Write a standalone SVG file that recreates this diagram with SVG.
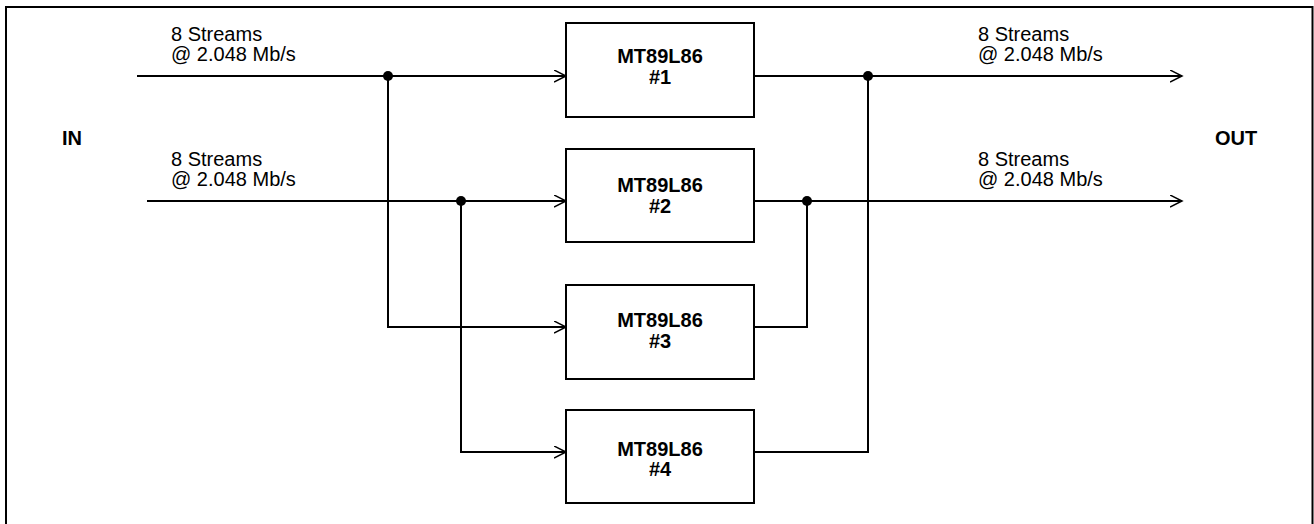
<svg xmlns="http://www.w3.org/2000/svg" width="1314" height="524" viewBox="0 0 1314 524">
<style>
.frame{fill:none;stroke:#000;stroke-width:2}
.box{fill:#fff;stroke:#000;stroke-width:2}
.wire{fill:none;stroke:#000;stroke-width:2}
.lbl{font-family:"Liberation Sans",Arial,sans-serif;font-size:20px;fill:#000}
.bold{font-family:"Liberation Sans",Arial,sans-serif;font-size:20px;font-weight:bold;fill:#000}
.dot{fill:#000}
</style>
<defs>
<marker id="arr" markerWidth="14" markerHeight="14" refX="12" refY="6" orient="auto" markerUnits="userSpaceOnUse">
<path d="M0,0 L12,6 L0,12" fill="none" stroke="#000" stroke-width="1.5"/>
</marker>
</defs>
<rect class="frame" x="6" y="7" width="1306.5" height="525"/>
<text class="bold" x="62" y="145">IN</text>
<text class="bold" x="1215" y="145">OUT</text>
<g id="labels">
<text class="lbl" x="171" y="41">8 Streams</text>
<text class="lbl" x="171" y="61">@ 2.048 Mb/s</text>
<text class="lbl" x="171" y="166">8 Streams</text>
<text class="lbl" x="171" y="186">@ 2.048 Mb/s</text>
<text class="lbl" x="978" y="41">8 Streams</text>
<text class="lbl" x="978" y="61">@ 2.048 Mb/s</text>
<text class="lbl" x="978" y="166">8 Streams</text>
<text class="lbl" x="978" y="186">@ 2.048 Mb/s</text>
</g>
<g id="connectors">
<path class="wire" d="M137,76 H566" marker-end="url(#arr)"/>
<path class="wire" d="M147,201 H566" marker-end="url(#arr)"/>
<path class="wire" d="M388,76 V327 H566" marker-end="url(#arr)"/>
<path class="wire" d="M461,201 V452 H566" marker-end="url(#arr)"/>
<path class="wire" d="M754,76 H1182" marker-end="url(#arr)"/>
<path class="wire" d="M754,201 H1182" marker-end="url(#arr)"/>
<path class="wire" d="M754,327 H807 V201"/>
<path class="wire" d="M754,452 H868 V76"/>
<circle class="dot" cx="388" cy="76" r="5"/>
<circle class="dot" cx="461" cy="201" r="5"/>
<circle class="dot" cx="868" cy="76" r="5"/>
<circle class="dot" cx="807" cy="201" r="5"/>
</g>
<g id="node1">
<rect class="box" x="566" y="23" width="188" height="94"/>
<text class="bold" x="660" y="63" text-anchor="middle">MT89L86</text>
<text class="bold" x="660" y="84" text-anchor="middle">#1</text>
</g>
<g id="node2">
<rect class="box" x="566" y="149" width="188" height="93"/>
<text class="bold" x="660" y="192" text-anchor="middle">MT89L86</text>
<text class="bold" x="660" y="213" text-anchor="middle">#2</text>
</g>
<g id="node3">
<rect class="box" x="566" y="285" width="188" height="94"/>
<text class="bold" x="660" y="327" text-anchor="middle">MT89L86</text>
<text class="bold" x="660" y="348" text-anchor="middle">#3</text>
</g>
<g id="node4">
<rect class="box" x="566" y="410" width="188" height="93"/>
<text class="bold" x="660" y="456" text-anchor="middle">MT89L86</text>
<text class="bold" x="660" y="476" text-anchor="middle">#4</text>
</g>
</svg>
